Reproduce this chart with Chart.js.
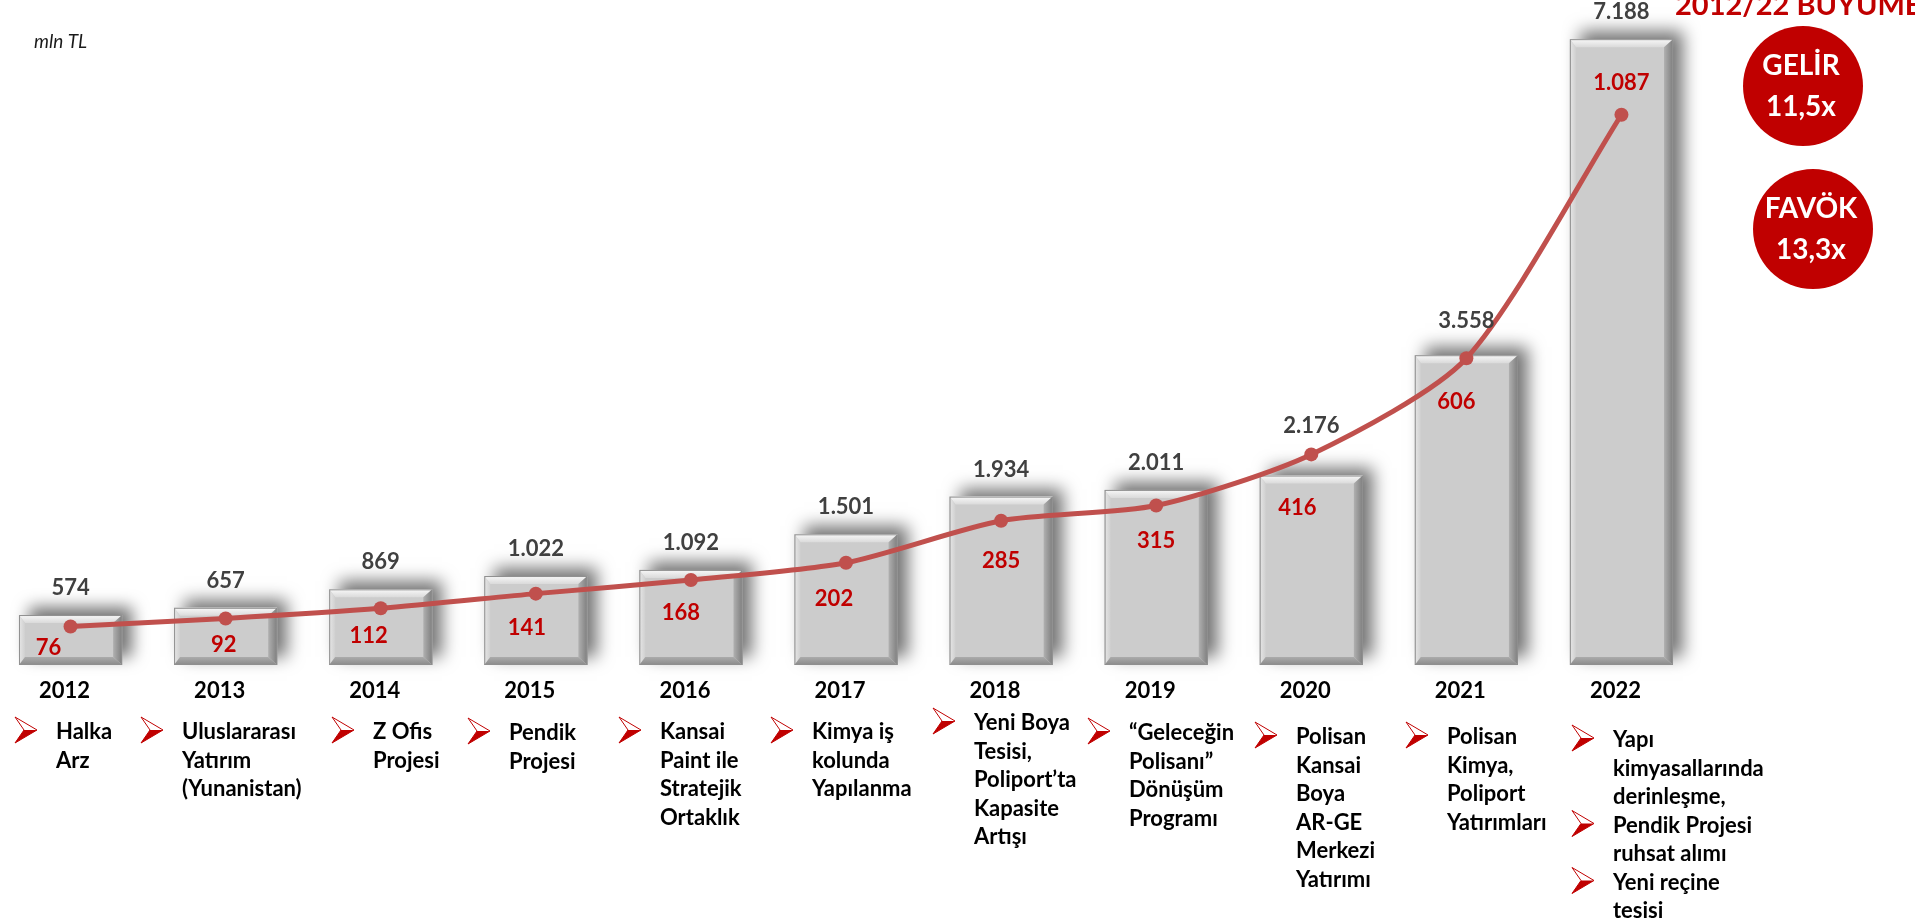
<!DOCTYPE html>
<html>
<head>
<meta charset="utf-8">
<script src="https://cdn.jsdelivr.net/npm/chart.js@4.4.1/dist/chart.umd.min.js"></script>
<style>
    html, body { margin: 0; padding: 0; background: #fff; overflow: hidden; }
    #chart { position: absolute; left: -14px; top: 0; }
</style>
</head>
<body>
<canvas id="chart" width="1929" height="923"></canvas>
<script>
const years = ["2012", "2013", "2014", "2015", "2016", "2017", "2018", "2019", "2020", "2021", "2022"];
const revenue = [574, 657, 869, 1022, 1092, 1501, 1934, 2011, 2176, 3558, 7188]; // gelir, mln TL
const favok = [76, 92, 112, 141, 168, 202, 285, 315, 416, 606, 1087];
const growthNames = ["GELİR", "FAVÖK"];
const growthValues = ["11,5x", "13,3x"];

// milestones under each year, one inner list per bullet
const notes = [
    [["Halka", "Arz"]],
    [["Uluslararası", "Yatırım", "(Yunanistan)"]],
    [["Z Ofis", "Projesi"]],
    [["Pendik", "Projesi"]],
    [["Kansai", "Paint ile", "Stratejik", "Ortaklık"]],
    [["Kimya iş", "kolunda", "Yapılanma"]],
    [["Yeni Boya", "Tesisi,", "Poliport’ta", "Kapasite", "Artışı"]],
    [["“Geleceğin", "Polisanı”", "Dönüşüm", "Programı"]],
    [["Polisan", "Kansai", "Boya", "AR-GE", "Merkezi", "Yatırımı"]],
    [["Polisan", "Kimya,", "Poliport", "Yatırımları"]],
    [["Yapı", "kimyasallarında", "derinleşme,"], ["Pendik Projesi", "ruhsat alımı"], ["Yeni reçine", "tesisi"]]
];

const OFFX = 14; // canvas sits 14px left of the page
const RED = "#c00000";
const FONT = "Lato";

function fmt(v) {
    return String(v).replace(/\B(?=(\d{3})+(?!\d))/g, "."); // 7188 -> 7.188
}

// bar shadow first, then chart draws the bar face
const barLook = {
    id: "barLook",
    beforeDatasetDraw(chart, args) {
        if (args.index !== 0) return;
        const ctx = chart.ctx;
        args.meta.data.forEach(el => {
            const p = el.getProps(["x", "y", "base", "width"], true);
            ctx.save();
            ctx.shadowColor = "rgba(0,0,0,0.55)";
            ctx.shadowBlur = 16;
            ctx.shadowOffsetX = 10;
            ctx.shadowOffsetY = -8;
            ctx.fillStyle = "#cccccc";
            ctx.fillRect(p.x - p.width / 2, p.y, p.width, p.base - p.y);
            ctx.restore();
        });
    },
    afterDatasetDraw(chart, args) {
        if (args.index !== 0) return;
        const ctx = chart.ctx;
        const bt = 8, bl = 6, br = 9, bb = 8; // bevel sizes
        args.meta.data.forEach(el => {
            const p = el.getProps(["x", "y", "base", "width"], true);
            const l = p.x - p.width / 2, r = p.x + p.width / 2, t = p.y, b = p.base;
            let g;
            ctx.save();
            // top
            g = ctx.createLinearGradient(0, t, 0, t + bt);
            g.addColorStop(0, "#f8f8f8"); g.addColorStop(1, "#dadada");
            ctx.fillStyle = g;
            ctx.beginPath(); ctx.moveTo(l, t); ctx.lineTo(r, t); ctx.lineTo(r - br, t + bt); ctx.lineTo(l + bl, t + bt); ctx.closePath(); ctx.fill();
            // left
            g = ctx.createLinearGradient(l, 0, l + bl, 0);
            g.addColorStop(0, "#e6e6e6"); g.addColorStop(1, "#d0d0d0");
            ctx.fillStyle = g;
            ctx.beginPath(); ctx.moveTo(l, t); ctx.lineTo(l + bl, t + bt); ctx.lineTo(l + bl, b - bb); ctx.lineTo(l, b); ctx.closePath(); ctx.fill();
            // right
            g = ctx.createLinearGradient(r - br, 0, r, 0);
            g.addColorStop(0, "#b0b0b0"); g.addColorStop(1, "#7e7e7e");
            ctx.fillStyle = g;
            ctx.beginPath(); ctx.moveTo(r, t); ctx.lineTo(r, b); ctx.lineTo(r - br, b - bb); ctx.lineTo(r - br, t + bt); ctx.closePath(); ctx.fill();
            // bottom
            g = ctx.createLinearGradient(0, b - bb, 0, b);
            g.addColorStop(0, "#ababab"); g.addColorStop(1, "#8a8a8a");
            ctx.fillStyle = g;
            ctx.beginPath(); ctx.moveTo(l, b); ctx.lineTo(l + bl, b - bb); ctx.lineTo(r - br, b - bb); ctx.lineTo(r, b); ctx.closePath(); ctx.fill();
            ctx.strokeStyle = "#8f8f8f";
            ctx.lineWidth = 1;
            ctx.strokeRect(l + 0.5, t + 0.5, r - l - 1, b - t - 1);
            ctx.restore();
        });
    }
};

// value labels: gray above bars, red next to the line points
const valueLabels = {
    id: "valueLabels",
    afterDatasetsDraw(chart) {
        const ctx = chart.ctx;
        const shift = [[-22, 21], [-2, 26], [-12, 28], [-9, 34], [-10, 33], [-12, 36], [0, 40], [0, 35], [-14, 53], [-10, 44], [0, -32]];
        const lift = [0, 0, 0, 0, 0, 0, 0, 0, 23, 7, 0]; // bar labels pushed up clear of the line
        ctx.save();
        ctx.textAlign = "center";
        ctx.textBaseline = "middle";
        ctx.font = "bold 22px " + FONT;
        ctx.fillStyle = "#404040";
        chart.getDatasetMeta(0).data.forEach((el, i) => {
            ctx.fillText(fmt(revenue[i]), el.x, el.y - 27 - lift[i]);
        });
        ctx.fillStyle = RED;
        chart.getDatasetMeta(1).data.forEach((pt, i) => {
            ctx.fillText(fmt(favok[i]), pt.x + shift[i][0], pt.y + shift[i][1]);
        });
        ctx.restore();
    }
};

function arrow(ctx, x, yc) {
    ctx.beginPath();
    ctx.moveTo(x, yc - 13);
    ctx.lineTo(x + 22, yc);
    ctx.lineTo(x, yc + 13);
    ctx.lineTo(x + 9, yc);
    ctx.closePath();
    ctx.strokeStyle = RED;
    ctx.lineWidth = 1;
    ctx.stroke();
    ctx.beginPath();
    ctx.moveTo(x + 9, yc);
    ctx.lineTo(x + 22, yc);
    ctx.lineTo(x, yc + 13);
    ctx.closePath();
    ctx.fillStyle = RED;
    ctx.fill();
}

// unit, headline, badges and the milestone notes
const extras = {
    id: "extras",
    afterDraw(chart) {
        const ctx = chart.ctx;
        ctx.save();
        ctx.translate(OFFX, 0);

        ctx.font = "italic 19px " + FONT;
        ctx.fillStyle = "#1a1a1a";
        ctx.textBaseline = "middle";
        ctx.fillText("mln TL", 34, 42);

        ctx.font = "bold 29px " + FONT;
        ctx.fillStyle = RED;
        ctx.textBaseline = "alphabetic";
        ctx.fillText("2012/22 BÜYÜME", 1675, 15);

        const badges = [[1803, 86], [1813, 229]];
        badges.forEach((c, i) => {
            ctx.beginPath();
            ctx.arc(c[0], c[1], 60, 0, Math.PI * 2);
            ctx.fillStyle = RED;
            ctx.fill();
            ctx.fillStyle = "#fff";
            ctx.font = "bold 28px " + FONT;
            ctx.textAlign = "center";
            ctx.textBaseline = "middle";
            ctx.fillText(growthNames[i], c[0] - 2, c[1] - 20);
            ctx.fillText(growthValues[i], c[0] - 2, c[1] + 21);
        });

        // arrow left edge and first line centre for each year
        const noteX = [15, 141, 332, 468, 619, 771, 933, 1088, 1255, 1406, 1572];
        const noteY = [732, 732, 732, 733, 732, 732, 723, 733, 737, 737, 740];
        const lh = 28.5;
        ctx.textAlign = "left";
        ctx.textBaseline = "middle";
        notes.forEach((bullets, i) => {
            let line = 0;
            bullets.forEach(lines => {
                arrow(ctx, noteX[i], noteY[i] + line * lh - 2);
                ctx.fillStyle = "#000";
                ctx.font = "bold 22px " + FONT;
                lines.forEach(txt => {
                    ctx.fillText(txt, noteX[i] + 41, noteY[i] + line * lh);
                    line++;
                });
            });
        });
        ctx.restore();
    }
};

function drawChart() {
    new Chart(document.getElementById("chart"), {
        data: {
            labels: years,
            datasets: [
                {
                    type: "bar",
                    label: "Gelir",
                    data: revenue,
                    yAxisID: "y",
                    backgroundColor: "#cccccc",
                    borderWidth: 0,
                    barPercentage: 0.665,
                    categoryPercentage: 1,
                    order: 1
                },
                {
                    type: "line",
                    label: "FAVÖK",
                    data: favok,
                    yAxisID: "y2",
                    borderColor: "#c0504d",
                    borderWidth: 5,
                    tension: 0.25,
                    pointRadius: 7,
                    pointBackgroundColor: "#c0504d",
                    pointBorderWidth: 0,
                    order: 0
                }
            ]
        },
        options: {
            responsive: false,
            animation: false,
            // autoPadding keeps 7px on the left for the point radius
            layout: { padding: { left: 1, right: 216, top: 12, bottom: 218 } },
            plugins: { legend: { display: false }, tooltip: { enabled: false } },
            scales: {
                x: {
                    offset: true,
                    grid: { display: false, drawTicks: false },
                    border: { display: false },
                    ticks: { color: "#000", font: { family: FONT, size: 22, weight: "bold" }, padding: 13, labelOffset: -6 },
                    afterFit: s => { s.height = 40; }
                },
                y: { display: false, min: 0, max: 7500 },
                y2: { display: false, min: 0, max: 1290 }
            }
        },
        plugins: [barLook, valueLabels, extras]
    });
}

Promise.all([
    document.fonts.load("bold 22px Lato"),
    document.fonts.load("italic 19px Lato")
]).then(drawChart, drawChart);
</script>
</body>
</html>
